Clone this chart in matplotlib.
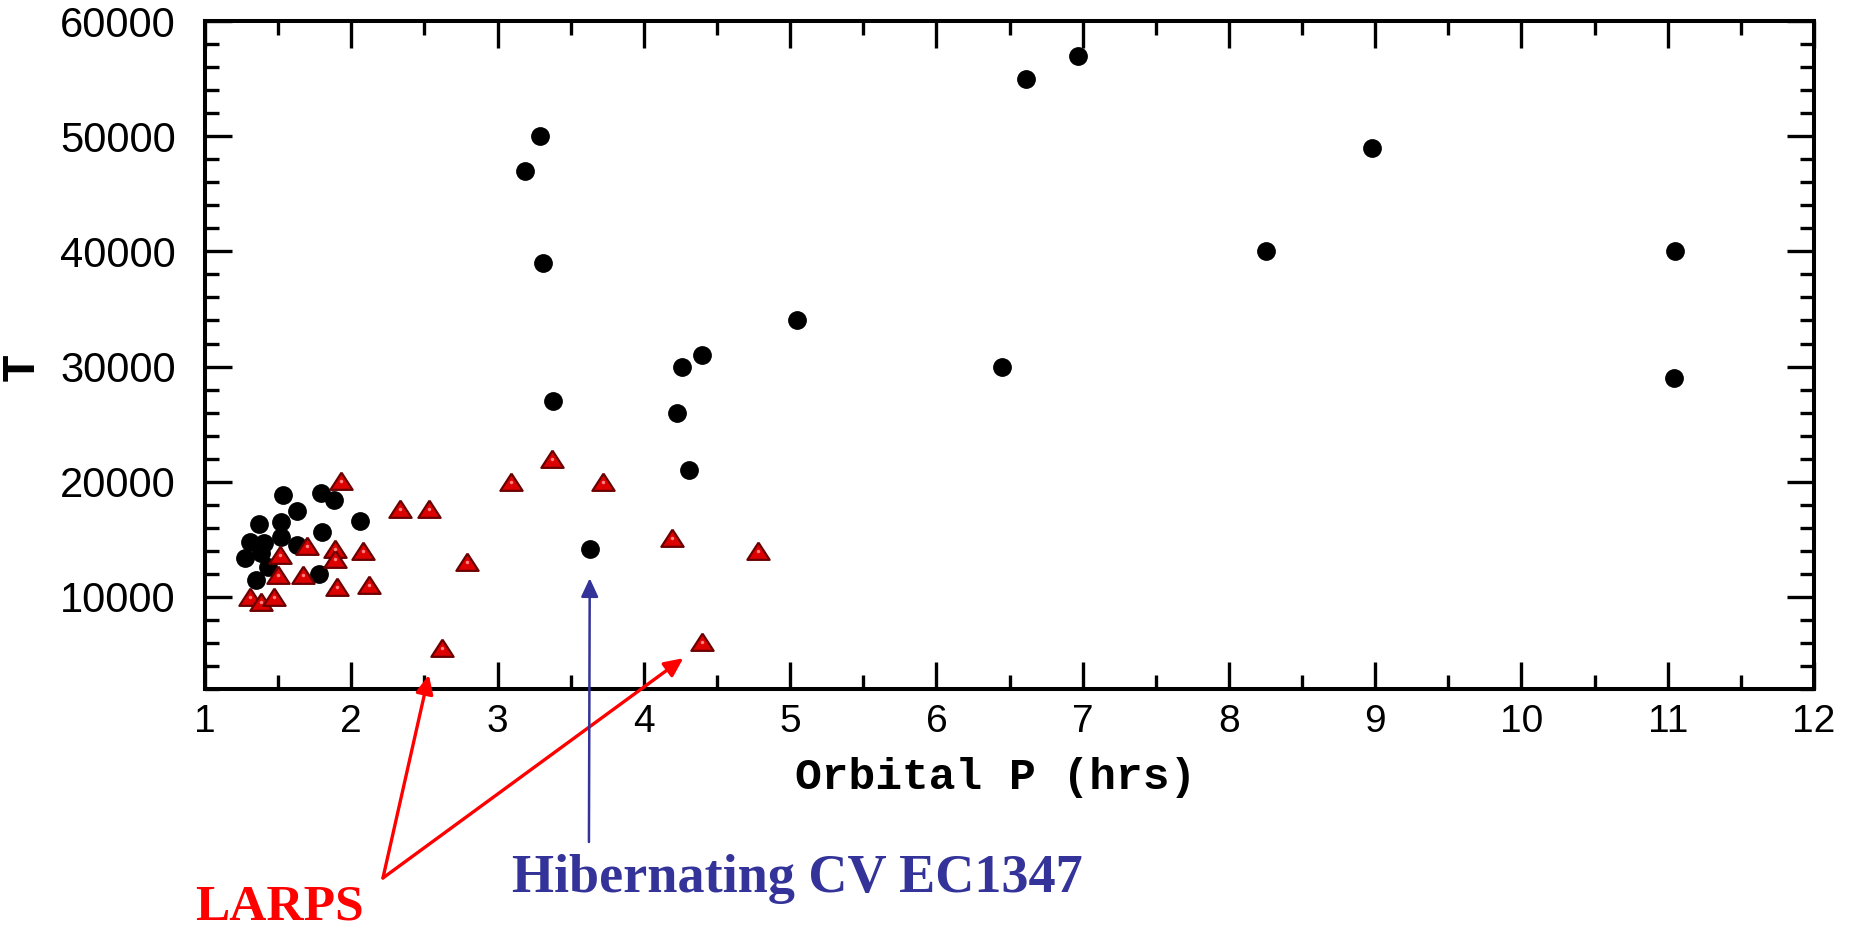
import matplotlib
matplotlib.use("Agg")
import matplotlib.pyplot as plt
from matplotlib.ticker import MultipleLocator, FixedLocator

# Cataclysmic variables: white-dwarf temperature vs orbital period
cv_period = [6.97, 6.61, 3.29, 3.19, 3.31, 8.98, 8.25, 11.05, 5.05, 4.40, 4.26,
             6.45, 11.04, 3.38, 4.23, 4.31, 3.63,
             1.535, 1.79, 1.88, 1.63, 2.06, 1.37, 1.52, 1.80, 1.52, 1.31, 1.40,
             1.63, 1.27, 1.38, 1.43, 1.35, 1.78]
cv_temp = [57000, 55000, 50000, 47000, 39000, 49000, 40000, 40000, 34000, 31000, 30000,
           30000, 29000, 27000, 26000, 21000, 14200,
           18850, 19000, 18400, 17500, 16600, 16300, 16500, 15600, 15200, 14800, 14650,
           14500, 13400, 13800, 12600, 11500, 12000]

# Second population (red triangles)
tri_period = [1.93, 1.70, 1.51, 1.89, 1.89, 2.08, 1.50, 1.67, 1.90, 2.12, 1.31, 1.38,
              1.47, 2.33, 2.53, 2.79, 2.62, 3.09, 3.37, 3.72, 4.19, 4.78, 4.40]
tri_temp = [20100, 14400, 13650, 14200, 13300, 14000, 11900, 11900, 10900, 11000, 10000, 9600,
            10000, 17600, 17600, 13000, 5600, 20000, 22000, 20000, 15100, 14000, 6100]

x_ticks = [1, 2, 3, 4, 5, 6, 7, 8, 9, 10, 11, 12]
y_ticks = [10000, 20000, 30000, 40000, 50000, 60000]

# Annotation targets (period, temperature)
larps_targets = [(2.53, 3230), (4.27, 4680)]
hibernating_target = (3.63, 11620)

fig = plt.figure(figsize=(18.59, 9.27), dpi=100)
ax = fig.add_axes([0.1103, 0.2567, 0.8655, 0.7206])

ax.plot(cv_period, cv_temp, linestyle="none", marker="o", markersize=12.5,
        markerfacecolor="black", markeredgecolor="black", zorder=3)

tri_marker = [(0, 0.8), (-1, -0.75), (1, -0.75), (0, 0.8)]
ax.plot(tri_period, tri_temp, linestyle="none", marker=tri_marker, markersize=16,
        markerfacecolor="#dd0000", markeredgecolor="#6a0000", markeredgewidth=1.6, zorder=4)
ax.plot(tri_period, tri_temp, linestyle="none", marker="o", markersize=2.5,
        markerfacecolor="#ff8080", markeredgecolor="none", zorder=5)

ax.set_xlim(1, 12)
ax.set_ylim(2000, 60000)
ax.xaxis.set_major_locator(FixedLocator(x_ticks))
ax.xaxis.set_minor_locator(MultipleLocator(0.5))
ax.yaxis.set_major_locator(FixedLocator(y_ticks))
ax.yaxis.set_minor_locator(MultipleLocator(2000))
ax.set_xticklabels([str(v) for v in x_ticks])
ax.set_yticklabels([str(v) for v in y_ticks])

for s in ax.spines.values():
    s.set_linewidth(2.9)
ax.tick_params(which="both", direction="in", top=True, right=True, color="black")
ax.tick_params(which="major", length=19.5, width=2.4)
ax.tick_params(which="minor", length=10, width=2.4)
ax.tick_params(axis="x", which="major", pad=11, labelsize=28)
ax.tick_params(axis="y", which="major", pad=21, labelsize=30)
for lab in ax.get_xticklabels() + ax.get_yticklabels():
    lab.set_family("Liberation Sans")

fig.text(0.5358, 0.1618, "Orbital P (hrs)", ha="center", va="center",
         family="Liberation Mono", weight="bold", fontsize=32)
fig.text(0.0118, 0.604, "T", ha="center", va="center", rotation=90,
         family="Liberation Mono", weight="bold", fontsize=34)

fig.text(0.1052, 0.0086, "LARPS", ha="left", va="baseline", color="#ff0000",
         family="Liberation Serif", weight="bold", fontsize=37)
fig.text(0.2754, 0.0378, "Hibernating CV EC1347", ha="left", va="baseline",
         color="#333399", family="Liberation Serif", weight="bold", fontsize=39)

for tgt in larps_targets:
    ax.annotate("", xy=tgt, xycoords="data", xytext=(0.206, 0.0529),
                textcoords="figure fraction", annotation_clip=False,
                arrowprops=dict(arrowstyle="-|>,head_length=0.75,head_width=0.35",
                                mutation_scale=15, color="#ff0000", lw=2.4,
                                shrinkA=0, shrinkB=0))
ax.annotate("", xy=hibernating_target, xycoords="data", xytext=(0.3168, 0.0917),
            textcoords="figure fraction", annotation_clip=False,
            arrowprops=dict(arrowstyle="-|>,head_length=0.75,head_width=0.35",
                            mutation_scale=15, color="#333399", lw=1.8,
                            shrinkA=0, shrinkB=0))

fig.savefig("out.png", dpi=100, facecolor="white")
